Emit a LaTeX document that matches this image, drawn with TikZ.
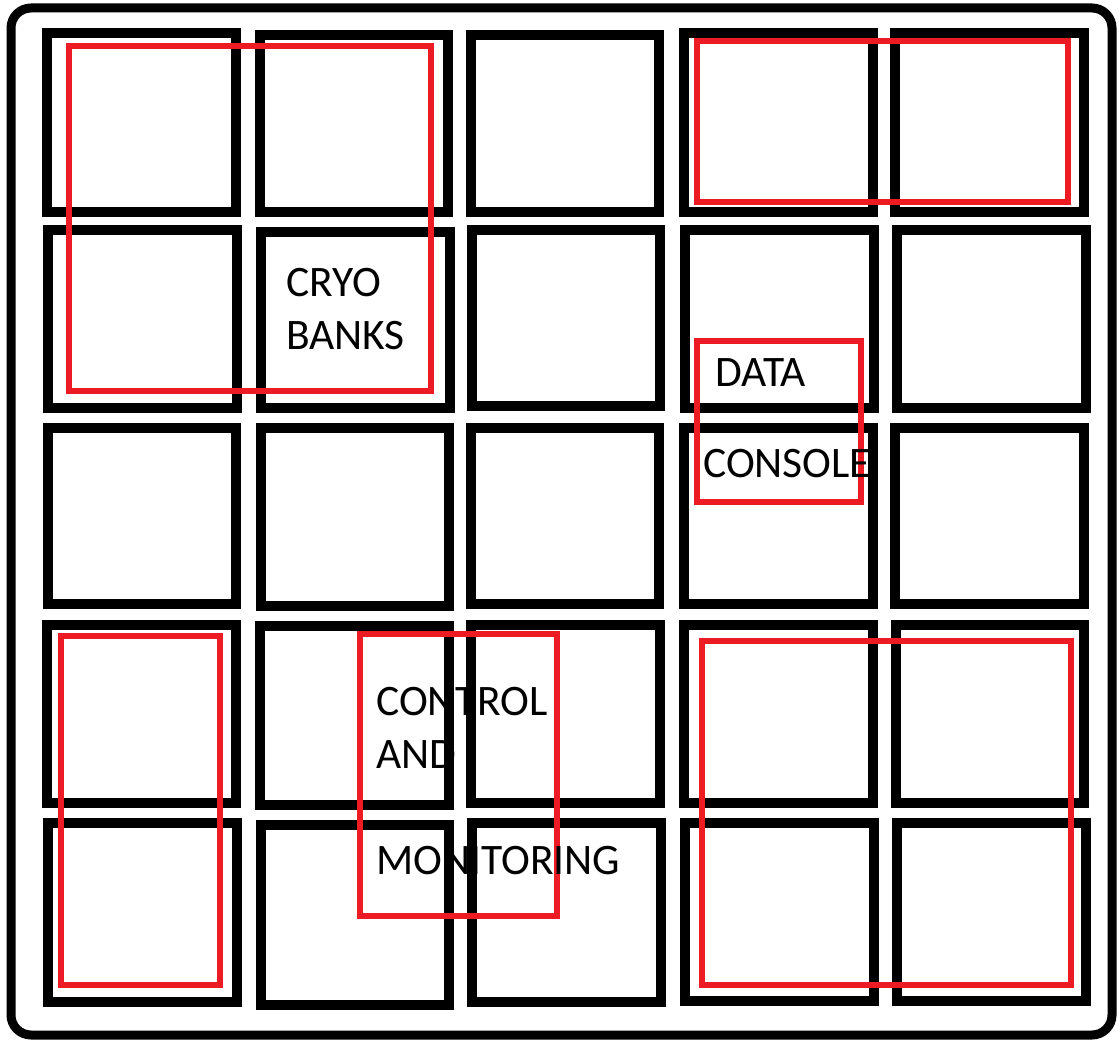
\documentclass[tikz,border=0pt]{standalone}
\usepackage{fontspec}
\setmainfont{Carlito}
\definecolor{paintred}{HTML}{ED1C24}

\begin{document}
\begin{tikzpicture}[x=1pt, y=-1pt, line join=miter,
    cellbox/.style={draw=black, line width=10.5pt},
    zonebox/.style={draw=paintred, line width=6pt},
    roomlabel/.style={anchor=base west, inner sep=0pt, font=\fontsize{43.5}{50}\selectfont}]

  %% ════ outer frame ════
  \draw[line width=9pt, rounded corners=20pt] (11,8) rectangle (1112,1035);

  %% ════ cells, row 1 ════
  \draw[cellbox] (47,33)   rectangle (236,212);
  \draw[cellbox] (260,35)  rectangle (448,212);
  \draw[cellbox] (471,35)  rectangle (659,212);
  \draw[cellbox] (684,33)  rectangle (873,212);
  \draw[cellbox] (895,33)  rectangle (1084,212);

  %% ════ cells, row 2 ════
  \draw[cellbox] (48,230)  rectangle (237,408);
  \draw[cellbox] (261,232) rectangle (450,408);
  \draw[cellbox] (472,230) rectangle (660,406);
  \draw[cellbox] (685,230) rectangle (874,408);
  \draw[cellbox] (897,230) rectangle (1086,408);

  %% ════ cells, row 3 ════
  \draw[cellbox] (48,428)  rectangle (236,604);
  \draw[cellbox] (261,428) rectangle (449,606);
  \draw[cellbox] (471,428) rectangle (659,604);
  \draw[cellbox] (684,428) rectangle (873,604);
  \draw[cellbox] (895,428) rectangle (1084,604);

  %% ════ cells, row 4 ════
  \draw[cellbox] (47,625)  rectangle (236,803);
  \draw[cellbox] (260,626) rectangle (449,805);
  \draw[cellbox] (471,625) rectangle (660,803);
  \draw[cellbox] (684,625) rectangle (873,803);
  \draw[cellbox] (896,625) rectangle (1084,803);

  %% ════ cells, row 5 ════
  \draw[cellbox] (48,823)  rectangle (237,1002);
  \draw[cellbox] (261,825) rectangle (449,1005);
  \draw[cellbox] (472,823) rectangle (661,1002);
  \draw[cellbox] (685,823) rectangle (874,1001);
  \draw[cellbox] (897,823) rectangle (1086,1001);

  %% ════ red zones ════
  \draw[zonebox] (69,46)   rectangle (431,391);   % cryo banks
  \draw[zonebox] (697,41)  rectangle (1068,202);
  \draw[zonebox] (697,341) rectangle (861,502);   % data console
  \draw[zonebox] (61,636)  rectangle (220,985);
  \draw[zonebox] (360,634) rectangle (557,916);   % control and monitoring
  \draw[zonebox] (702,641) rectangle (1071,985);

  %% ════ labels (over the red, under the black walls) ════
  \node[roomlabel] (cryo1)    at (286,297) {CRYO};
  \node[roomlabel] (cryo2)    at (286,350) {BANKS};
  \node[roomlabel] (data1)    at (715,387) {DATA};
  \node[roomlabel] (data2)    at (703,477) {CONSOLE};
  \node[roomlabel] (ctrl1)    at (376,715) {CONTROL};
  \node[roomlabel] (ctrl2)    at (376,768) {AND};
  \node[roomlabel] (ctrl3)    at (376,874) {MONITORING};

  %% ════ walls that cut through the labels, drawn again ════
  \draw[cellbox] (449,640) -- (449,795)  (471,640) -- (471,795);
  \draw[cellbox] (449,835) -- (449,908)  (472,835) -- (472,908);
  \draw[cellbox] (873,440) -- (873,495);

  % fix the canvas to the reference size
  \pgfresetboundingbox
  \path[use as bounding box] (0,0) rectangle (1119,1040);
\end{tikzpicture}
\end{document}
